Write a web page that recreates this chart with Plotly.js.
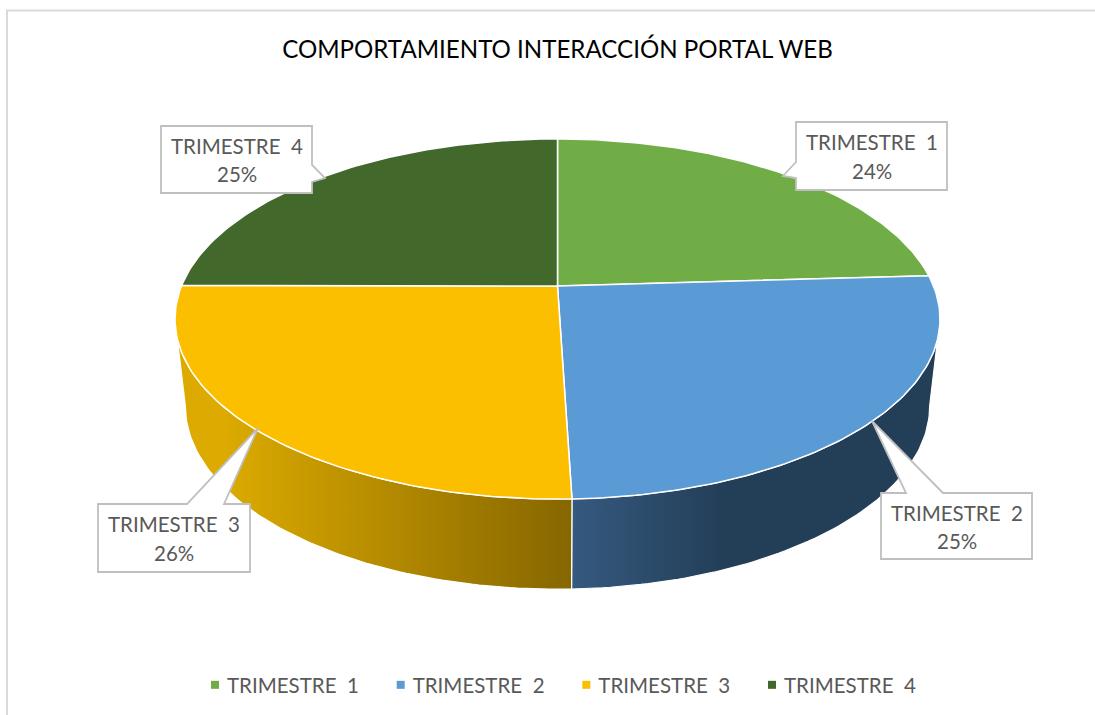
<!DOCTYPE html>
<html>
<head>
<meta charset="utf-8">
<script src="https://cdn.plot.ly/plotly-3.0.1.min.js"></script>
<style>html,body{margin:0;padding:0;background:#fff}</style>
</head>
<body>
<div id="chart" style="width:1095px;height:715px"></div>
<script>
// ---- data ----
const titleText = 'COMPORTAMIENTO INTERACCIÓN PORTAL WEB';
const categories = ['TRIMESTRE\u00a0\u00a01','TRIMESTRE\u00a0\u00a02','TRIMESTRE\u00a0\u00a03','TRIMESTRE\u00a0\u00a04'];
const values = [24.05, 25.45, 25.55, 24.95];
const colors = ['#70AD47','#5B9BD5','#FBBF00','#43682B'];

// ---- projection of the tilted disc ----
const CX = 557.5, CY = 286, R = 376, A = 174, P = 0.1833;
const BX = 0.973, BY = 1.017, MID = 319, DROP = 87;
function rimTop(deg){
  const t = deg*Math.PI/180, X = Math.sin(t), Y = Math.cos(t), d = 1+P*Y;
  return [CX + R*X/d, CY - A*Y/d];
}
function rimBottom(deg){
  const p = rimTop(deg);
  return [CX + (p[0]-CX)*BX, MID + DROP + (p[1]-MID)*BY];
}
function arc(fn, a, b){
  const pts = [], n = Math.max(2, Math.ceil(Math.abs(b-a)));
  for(let i=0;i<=n;i++) pts.push(fn(a+(b-a)*i/n));
  return pts;
}
const total = values.reduce((s,v)=>s+v,0);
const edges = [0];
values.forEach(v=>edges.push(edges[edges.length-1]+v/total*360));
const rimRight = Math.acos(-P)*180/Math.PI, rimLeft = 360-rimRight;

// ---- side wall shading ----
const wallShade = {
  1:{start:572, stop:725, scale:[[0,'#35597F'],[1,'#233E57']], base:'#233E57'},
  2:{start:225, stop:572, scale:[[0,'#DCAA00'],[1,'#866600']], base:'#B88E00'}
};
const traces = [];
values.forEach((v,i)=>{
  const a = Math.max(edges[i], rimRight), b = Math.min(edges[i+1], rimLeft);
  if(b<=a) return;
  const pts = arc(rimTop,a,b).concat(arc(rimBottom,b,a));
  pts.push(pts[0]);
  const s = wallShade[i];
  traces.push({type:'scatter',mode:'lines',x:pts.map(p=>p[0]),y:pts.map(p=>p[1]),
    fill:'toself',fillcolor:s.base,
    fillgradient:{type:'horizontal',start:s.start,stop:s.stop,colorscale:s.scale},
    line:{color:'#FFFFFF',width:1.2},showlegend:false,hoverinfo:'skip'});
});
values.forEach((v,i)=>{
  const pts = [[CX,CY]].concat(arc(rimTop,edges[i],edges[i+1]));
  pts.push([CX,CY]);
  traces.push({type:'scatter',mode:'lines',x:pts.map(p=>p[0]),y:pts.map(p=>p[1]),
    fill:'toself',fillcolor:colors[i],line:{color:'#FFFFFF',width:1.5},
    showlegend:false,name:categories[i],hoverinfo:'name'});
});
categories.forEach((c,i)=>{
  traces.push({type:'scatter',mode:'markers',x:[null],y:[null],name:c,
    marker:{symbol:'square',size:8,color:colors[i]},hoverinfo:'skip'});
});

// ---- callouts: box [x0,y0,x1,y1], pointer tip, pointer base ----
const callouts = [
  {box:[796,122,947,190], tip:[783,176], base:[[796,178],[796,162]]},
  {box:[881,493,1032,559], tip:[872,421], base:[[906,493],[943,493]]},
  {box:[98,504,250,572], tip:[258,428], base:[[187,504],[224,504]]},
  {box:[161,126,312,193], tip:[325,178], base:[[312,165],[312,182]]}
];
const shapes = [
  {type:'path',path:'M7,715 L7,10.5 L1095,10.5',line:{color:'#D9D9D9',width:2},layer:'below'}
];
const annotations = [];
callouts.forEach((c,i)=>{
  const [x0,y0,x1,y1] = c.box;
  let path;
  if(i===0) path=`M${x0},${y0} L${x1},${y0} L${x1},${y1} L${x0},${y1} L${c.base[0]} L${c.tip} L${c.base[1]} Z`;
  if(i===1) path=`M${x0},${y0} L${c.base[0]} L${c.tip} L${c.base[1]} L${x1},${y0} L${x1},${y1} L${x0},${y1} Z`;
  if(i===2) path=`M${x0},${y0} L${c.base[0]} L${c.tip} L${c.base[1]} L${x1},${y0} L${x1},${y1} L${x0},${y1} Z`;
  if(i===3) path=`M${x0},${y0} L${x1},${y0} L${c.base[0]} L${c.tip} L${c.base[1]} L${x1},${y1} L${x0},${y1} Z`;
  shapes.push({type:'path',path,fillcolor:'#FFFFFF',line:{color:'#BFBFBF',width:1.8},layer:'above'});
  const cx=(x0+x1)/2, h=y1-y0;
  annotations.push({x:cx,y:y0+h*0.30,xref:'x',yref:'y',showarrow:false,text:categories[i],
    font:{family:'Lato',size:20.5,color:'#595959'}});
  annotations.push({x:cx,y:y0+h*0.72,xref:'x',yref:'y',showarrow:false,text:Math.round(values[i]/total*100)+'%',
    font:{family:'Lato',size:20.5,color:'#595959'}});
});

const layout = {
  width:1095,height:715,margin:{l:0,r:0,t:0,b:0},
  paper_bgcolor:'#FFFFFF',plot_bgcolor:'#FFFFFF',
  title:{text:titleText,x:557.5/1095,xanchor:'center',y:1-50/715,yanchor:'middle',
    font:{family:'Lato',size:24.1,color:'#000000'}},
  xaxis:{range:[0,1095],visible:false,fixedrange:true},
  yaxis:{range:[715,0],visible:false,fixedrange:true},
  showlegend:true,
  legend:{orientation:'h',x:187/1095,xanchor:'left',y:1-685/715,yanchor:'middle',
    entrywidth:140.67,entrywidthmode:'pixels',bgcolor:'rgba(0,0,0,0)',
    font:{family:'Lato',size:20.5,color:'#595959'}},
  shapes,annotations
};
Plotly.newPlot('chart',traces,layout,{displayModeBar:false,staticPlot:true}).then(()=>{
  document.querySelectorAll('#chart .legend .legendpoints').forEach(n=>{
    n.setAttribute('transform','translate(8,0)');
  });
});
</script>
</body>
</html>
